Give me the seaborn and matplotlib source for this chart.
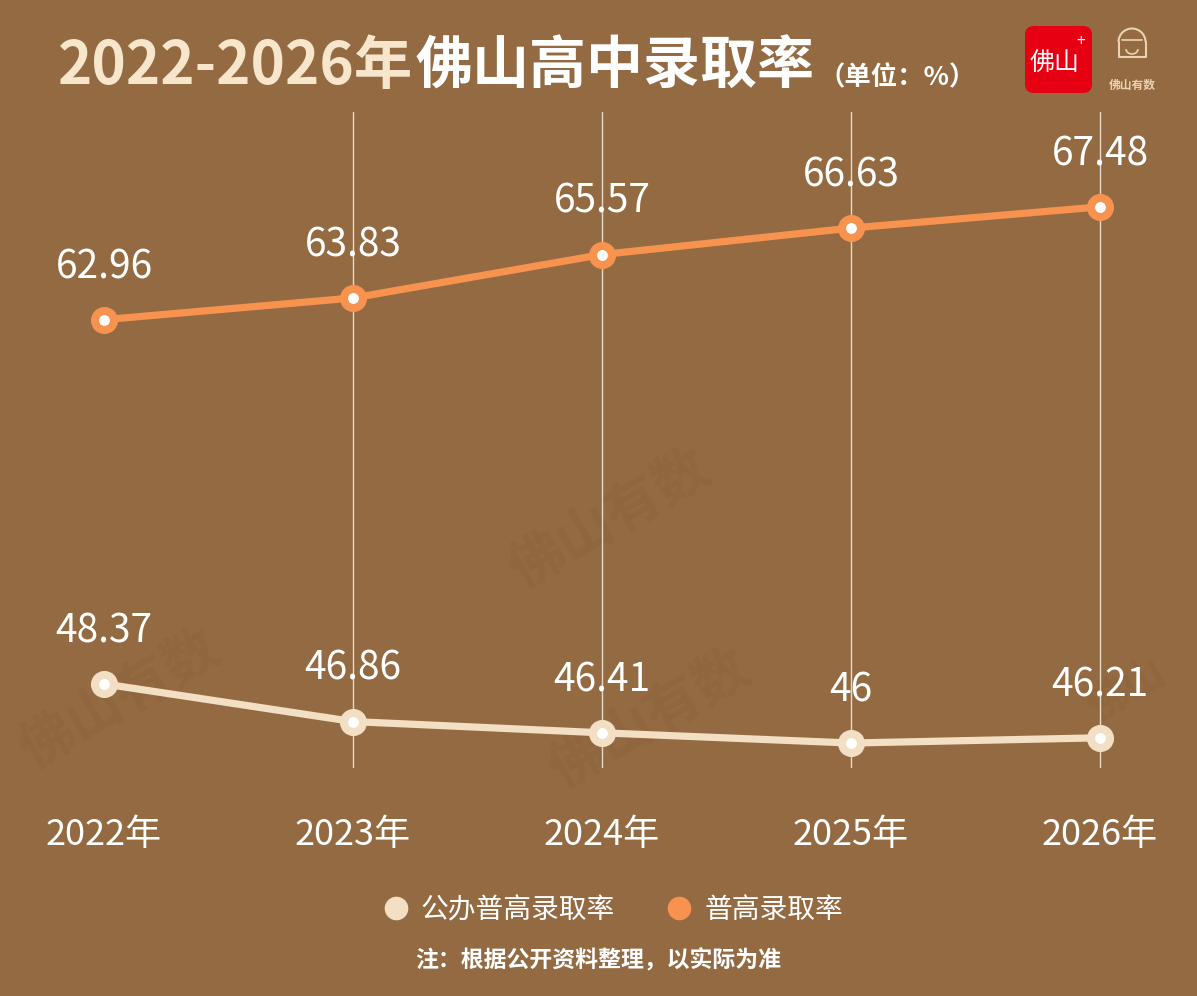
import numpy as np, pandas as pd
import matplotlib
matplotlib.use('Agg')
import matplotlib.pyplot as plt
import seaborn as sns
from matplotlib.lines import Line2D
from matplotlib.patches import FancyBboxPatch, Arc

# data
years = ['2022年', '2023年', '2024年', '2025年', '2026年']
gongban = [48.37, 46.86, 46.41, 46.00, 46.21]
pugao = [62.96, 63.83, 65.57, 66.63, 67.48]
series_names = ['公办普高录取率', '普高录取率']

bg = '#936A41'
c_gongban = '#F3DFC4'
c_pugao = '#F7924F'
cream = '#F8E6CC'

sns.set_theme(style='white')
plt.rcParams['font.family'] = ['Noto Sans CJK SC', 'DejaVu Sans']
plt.rcParams['axes.unicode_minus'] = False

W, H = 1197, 996
fig = plt.figure(figsize=(W / 100, H / 100), dpi=100, facecolor=bg)


def px(x0, y0, x1, y1):
    """ caja en pixeles (origen arriba-izq) -> rect en fraccion de figura """
    return [x0 / W, 1 - y1 / H, (x1 - x0) / W, (y1 - y0) / H]


# marcas de agua (muy tenues)
for (x, y, s, fs) in [(10, 700, '佛山有数', 40), (540, 720, '佛山有数', 40),
                      (500, 520, '佛山有数', 40), (1080, 690, '佛山', 30)]:
    fig.text(x / W, 1 - y / H, s, fontsize=fs, fontweight='bold', color='#8F663E',
             rotation=30, ha='left', va='center', zorder=-5)

ax = fig.add_axes(px(20, 112, 1177, 768))
ax.set_facecolor('none')

df = pd.DataFrame({'x': range(len(years)), 'year': years, 'gongban': gongban, 'pugao': pugao})

for i in df['x'][1:]:
    ax.axvline(i, color='#E6DACB', lw=1, zorder=1)

for col, color in [('pugao', c_pugao), ('gongban', c_gongban)]:
    sns.lineplot(data=df, x='x', y=col, ax=ax, color=color, lw=5.2, marker='o',
                 markersize=13.7, markerfacecolor='white', markeredgecolor=color,
                 markeredgewidth=5.8, solid_capstyle='round', zorder=3)
    for x, v in zip(df['x'], df[col]):
        ax.annotate(f'{v:g}', (x, v), xytext=(0, 30), textcoords='offset points',
                    ha='center', va='baseline', fontsize=28, fontweight='medium',
                    color='white', zorder=4)

ax.set_xlim((20 - 104) / 249, (1177 - 104) / 249)
ax.set_ylim(45.0, 71.28)
ax.set_xticks(df['x'], years)
ax.set_yticks([])
ax.set_xlabel('')
ax.set_ylabel('')
ax.tick_params(axis='x', length=0, pad=35, labelsize=26, labelcolor='white')
for s in ax.spines.values():
    s.set_visible(False)

# leyenda
handles = [Line2D([], [], ls='none', marker='o', markersize=16, color=c) for c in (c_gongban, c_pugao)]
fig.legend(handles, series_names, loc='center', bbox_to_anchor=(0.5 + 14 / W, 1 - 910 / H), ncol=2,
           frameon=False, fontsize=20, labelcolor='white', handlelength=1.0,
           handletextpad=0.4, columnspacing=1.8)

# nota
fig.text(0.5, 1 - 960 / H, '注：根据公开资料整理，以实际为准', fontsize=16.5, fontweight='bold',
         color='white', ha='center', va='center')

# titulo
fig.canvas.draw()
r = fig.canvas.get_renderer()
t1 = fig.text(58 / W, 1 - 84 / H, '2022-2026年', fontsize=42, fontweight='heavy',
              color=cream, va='baseline')
bb = t1.get_window_extent(r)
t2 = fig.text((bb.x1 + 2) / W, 1 - 84 / H, '佛山高中录取率', fontsize=41, fontweight='heavy',
              color='white', va='baseline')
bb = t2.get_window_extent(r)
fig.text((bb.x1 + 4) / W, 1 - 85 / H, '（单位：%）', fontsize=19, fontweight='bold',
         color='white', va='baseline')

# logo rojo
lax = fig.add_axes(px(1025, 26, 1092, 93))
lax.set_xlim(0, 67)
lax.set_ylim(0, 67)
lax.axis('off')
lax.add_patch(FancyBboxPatch((0, 0), 67, 67, boxstyle='round,pad=0,rounding_size=9',
                             fc='#E60012', ec='none'))
lax.text(30, 30, '佛山', fontsize=18, color='white', ha='center', va='center')
lax.text(56, 52, '+', fontsize=11, color='white', ha='center', va='center')

# logo 佛山有数
lax2 = fig.add_axes(px(1100, 20, 1165, 100))
lax2.set_xlim(0, 65)
lax2.set_ylim(0, 80)
lax2.axis('off')
lc = '#E9D3B4'
lax2.add_patch(Arc((32, 58), 27, 27, theta1=0, theta2=180, color=lc, lw=1.5))
lax2.plot([18.5, 18.5, 45.5, 45.5], [58, 43, 43, 58], color=lc, lw=1.5)
lax2.plot([22, 42], [60, 60], color=lc, lw=1.2)
lax2.add_patch(Arc((32, 51), 12, 10, theta1=180, theta2=360, color=lc, lw=1.2))
lax2.text(32, 15, '佛山有数', fontsize=8.5, fontweight='bold', color=lc, ha='center', va='center')

fig.savefig('out.png', dpi=100, facecolor=bg)
